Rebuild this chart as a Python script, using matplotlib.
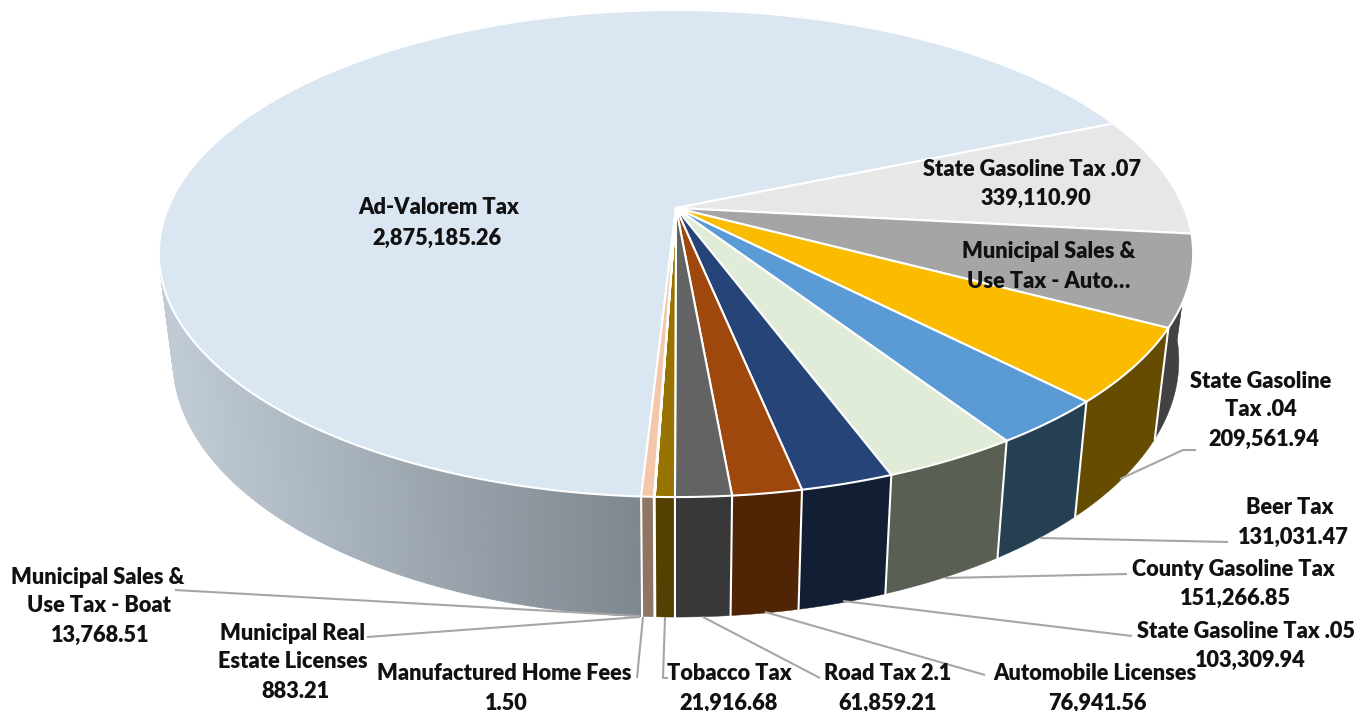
import numpy as np
import matplotlib
matplotlib.use('Agg')
import matplotlib.pyplot as plt
from matplotlib.colors import to_rgb

# slices, clockwise from the front of the pie
names = ['Ad-Valorem Tax', 'State Gasoline Tax .07', 'Municipal Sales & Use Tax - Auto', 'State Gasoline Tax .04',
         'Beer Tax', 'County Gasoline Tax', 'State Gasoline Tax .05', 'Automobile Licenses', 'Road Tax 2.1',
         'Tobacco Tax', 'Manufactured Home Fees', 'Municipal Real Estate Licenses', 'Municipal Sales & Use Tax - Boat']
values = [2875185.26, 339110.90, 255000.00, 209561.94, 131031.47, 151266.85, 103309.94, 76941.56, 61859.21,
          21916.68, 1.50, 883.21, 13768.51]
top_colors = ['#DAE6F2', '#E7E7E7', '#A5A5A5', '#FBBC00', '#5B9BD5', '#E1ECD8', '#264478', '#9E480E', '#636363',
              '#997300', '#F4C7AA', '#F4C7AA', '#F4C7AA']
side_colors = ['#9AA3AB', '#5C5C5C', '#424242', '#654C00', '#264053', '#595F53', '#111E33', '#4F2506', '#383838',
               '#544000', '#8F7563', '#8F7563', '#8F7563']

# printed text, one entry per line: text, centre x, centre y
text_lines = [('Ad-Valorem Tax', 439, 206), ('2,875,185.26', 437, 236),
              ('State Gasoline Tax .07', 1032, 167), ('339,110.90', 1036, 196),
              ('Municipal Sales &', 1049, 249), ('Use Tax - Auto…', 1049, 279),
              ('State Gasoline', 1261, 379), ('Tax .04', 1261, 408), ('209,561.94', 1264, 437),
              ('Beer Tax', 1290, 506), ('131,031.47', 1293, 535),
              ('County Gasoline Tax', 1233, 567), ('151,266.85', 1236, 596),
              ('State Gasoline Tax .05', 1246, 629), ('103,309.94', 1250, 658),
              ('Automobile Licenses', 1095, 672), ('76,941.56', 1097, 701),
              ('Road Tax 2.1', 888, 672), ('61,859.21', 888, 701),
              ('Tobacco Tax', 729, 672), ('21,916.68', 729, 701),
              ('Manufactured Home Fees', 504, 672), ('1.50', 506, 701),
              ('Municipal Real', 293, 631), ('Estate Licenses', 293, 660), ('883.21', 295, 689),
              ('Municipal Sales &', 98, 575), ('Use Tax - Boat', 99, 604), ('13,768.51', 100, 633)]

# leader lines
leaders = [([1120, 1183, 1196], [479, 450, 450]),
           ([1040, 1228], [538, 542]),
           ([945, 1127], [578, 574]),
           ([843, 1132], [601, 636]),
           ([765, 985], [612, 675]),
           ([703, 820], [617, 678]),
           ([665, 663, 668], [617, 678, 678]),
           ([643, 637], [617, 678]),
           ([640, 367], [617, 637]),
           ([640, 175], [616, 590])]

CX = 676
START = -93.2


def project(theta, lower=False):
    # perspective view of the unit circle, theta in degrees
    u = np.cos(np.radians(theta))
    v = np.sin(np.radians(theta))
    w = 1 + 0.187 * v
    if lower:
        return CX + 494 * u / w, 312.5 - 247.6 * v / w
    return CX + 508 * u / w, 208 - 235 * v / w


fig = plt.figure(figsize=(13.7, 7.11), dpi=100)
ax = fig.add_axes([0, 0, 1, 1])
ax.set_xlim(0, 1370)
ax.set_ylim(711, 0)
ax.axis('off')

total = sum(values)
cum = np.concatenate([[0], np.cumsum(values)]) / total
edges = START - 360 * cum

# side wall of the big slice has a gradient, so it goes in strips
left = np.array(to_rgb('#C0CBD6'))
right = np.array(to_rgb('#7E878E'))
th = np.linspace(edges[0], edges[1], 500)
strips = sorted(zip(th[:-1], th[1:]), key=lambda s: -np.sin(np.radians(s[0])))
for a, b in strips:
    xa, ya = project(a)
    xb, yb = project(b)
    xc, yc = project(b, True)
    xd, yd = project(a, True)
    t = np.clip(((xa + xb) / 2 - 170) / 470, 0, 1)
    ax.fill([xa, xb, xc, xd], [ya, yb, yc, yd], color=tuple(left + (right - left) * t), lw=0.6, zorder=1)

# other walls in one piece
for i in range(1, len(values)):
    th = np.linspace(edges[i], edges[i + 1], 60)
    xt, yt = project(th)
    xb, yb = project(th[::-1], True)
    ax.fill(np.r_[xt, xb], np.r_[yt, yb], color=side_colors[i], lw=0.3, zorder=1)

# white separators on the wall, front facing ones only
for i in range(len(edges) - 1):
    if values[i] < 100 or np.sin(np.radians(edges[i])) > -0.3:
        continue
    xa, ya = project(edges[i])
    xd, yd = project(edges[i], True)
    ax.plot([xa, xd], [ya, yd], color='white', lw=1.5, zorder=2)

# top face
for i in range(len(values)):
    th = np.linspace(edges[i], edges[i + 1], max(2, int(abs(edges[i] - edges[i + 1]) * 3)))
    x, y = project(th)
    ax.fill(np.r_[CX, x], np.r_[208, y], facecolor=top_colors[i], edgecolor='white',
            lw=1.5, joinstyle='round', zorder=3)

for xs, ys in leaders:
    ax.plot(xs, ys, color='#A6A6A6', lw=1.5, zorder=4, solid_capstyle='butt')

for s, x, y in text_lines:
    ax.text(x, y + 2, s, ha='center', va='center', family=['Lato', 'DejaVu Sans'], fontweight='heavy',
            fontsize=15.7, color='#111111', zorder=5)

fig.savefig('out.png', dpi=100)
